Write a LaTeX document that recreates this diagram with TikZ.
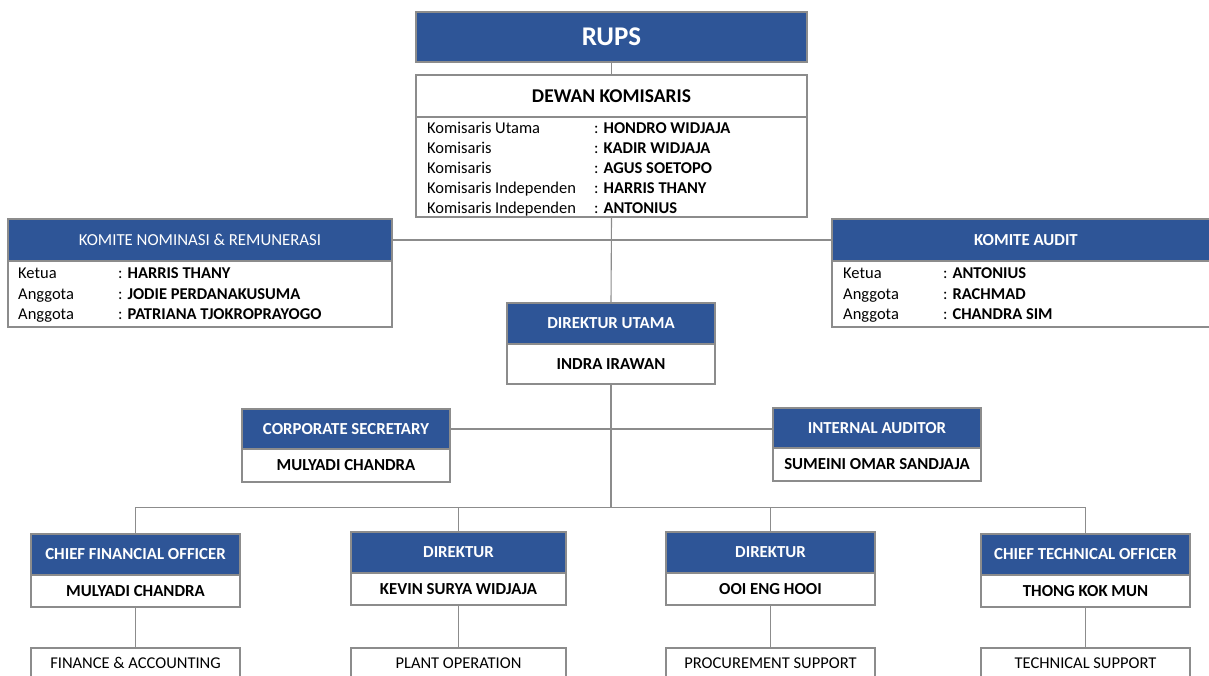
\documentclass[tikz,border=0pt]{standalone}
\usepackage{fontspec}
\setmainfont{Carlito}
\definecolor{hblue}{HTML}{2E5597}
\definecolor{lgray}{HTML}{8C8C8C}
\tikzset{
  hdr/.style={draw=lgray, line width=1.3pt, fill=hblue, text=white, inner sep=0pt, font=\bfseries\fontsize{16.8}{19}\selectfont},
  hdrlight/.style={hdr, font=\fontsize{16.8}{19}\selectfont},
  bodybox/.style={draw=lgray, line width=1.3pt, fill=white, inner sep=0pt, font=\bfseries\fontsize{16.8}{19}\selectfont},
  unitbox/.style={bodybox, font=\fontsize{16.5}{19}\selectfont},
  lbl/.style={anchor=base west, inner sep=0pt, yshift=-5.5pt, font=\fontsize{16.5}{19}\selectfont},
  conn/.style={draw=lgray, line width=1.1pt}
}
\begin{document}
\begin{tikzpicture}[x=1pt,y=-1pt]
\useasboundingbox (0,0) rectangle (1209,675);
\clip (0,0) rectangle (1209,675);

% RUPS and Dewan Komisaris
\node[hdr, minimum width=391, minimum height=50, font=\bfseries\fontsize{27}{30}\selectfont] (rups) at (611.5,37) {RUPS};
\node[bodybox, minimum width=391, minimum height=42, font=\bfseries\fontsize{19.5}{22}\selectfont] (dk) at (611.5,96) {DEWAN KOMISARIS};
\node[bodybox, minimum width=391, minimum height=100] (dkb) at (611.5,167) {};
\node[lbl] (dk1l) at (427,128) {Komisaris Utama};
\node[lbl] (dk1v) at (594,128) {: \textbf{HONDRO WIDJAJA}};
\node[lbl] (dk2l) at (427,148) {Komisaris};
\node[lbl] (dk2v) at (594,148) {: \textbf{KADIR WIDJAJA}};
\node[lbl] (dk3l) at (427,168) {Komisaris};
\node[lbl] (dk3v) at (594,168) {: \textbf{AGUS SOETOPO}};
\node[lbl] (dk4l) at (427,188) {Komisaris Independen};
\node[lbl] (dk4v) at (594,188) {: \textbf{HARRIS THANY}};
\node[lbl] (dk5l) at (427,208) {Komisaris Independen};
\node[lbl] (dk5v) at (594,208) {: \textbf{ANTONIUS}};

% Komite Nominasi & Remunerasi
\node[hdrlight, minimum width=384, minimum height=42] (knr) at (200,240) {KOMITE NOMINASI \& REMUNERASI};
\node[bodybox, minimum width=384, minimum height=66] (knrb) at (200,294) {};
\node[lbl] (knr1l) at (18,273) {Ketua};
\node[lbl] (knr1v) at (118,273) {: \textbf{HARRIS THANY}};
\node[lbl] (knr2l) at (18,294) {Anggota};
\node[lbl] (knr2v) at (118,294) {: \textbf{JODIE PERDANAKUSUMA}};
\node[lbl] (knr3l) at (18,314) {Anggota};
\node[lbl] (knr3v) at (118,314) {: \textbf{PATRIANA TJOKROPRAYOGO}};

% Komite Audit
\node[hdr, minimum width=388, minimum height=42] (ka) at (1026,240) {KOMITE AUDIT};
\node[bodybox, minimum width=388, minimum height=66] (kab) at (1026,294) {};
\node[lbl] (ka1l) at (843,273) {Ketua};
\node[lbl] (ka1v) at (943,273) {: \textbf{ANTONIUS}};
\node[lbl] (ka2l) at (843,294) {Anggota};
\node[lbl] (ka2v) at (943,294) {: \textbf{RACHMAD}};
\node[lbl] (ka3l) at (843,314) {Anggota};
\node[lbl] (ka3v) at (943,314) {: \textbf{CHANDRA SIM}};

% Direktur Utama
\node[hdr, minimum width=208, minimum height=41] (du) at (611,323.5) {DIREKTUR UTAMA};
\node[bodybox, minimum width=208, minimum height=40] (dub) at (611,364) {INDRA IRAWAN};

% Corporate Secretary / Internal Auditor
\node[hdr, minimum width=208, minimum height=40] (cs) at (346,429) {CORPORATE SECRETARY};
\node[bodybox, minimum width=208, minimum height=33] (csb) at (346,465.5) {MULYADI CHANDRA};
\node[hdr, minimum width=208, minimum height=40] (ia) at (877,428) {INTERNAL AUDITOR};
\node[bodybox, minimum width=208, minimum height=33] (iab) at (877,464.5) {SUMEINI OMAR SANDJAJA};

% Directors
\node[hdr, minimum width=209, minimum height=41] (cfo) at (135.5,554.5) {CHIEF FINANCIAL OFFICER};
\node[bodybox, minimum width=209, minimum height=32] (cfob) at (135.5,591) {MULYADI CHANDRA};
\node[hdr, minimum width=215, minimum height=41] (d1) at (458.5,552.5) {DIREKTUR};
\node[bodybox, minimum width=215, minimum height=32] (d1b) at (458.5,589) {KEVIN SURYA WIDJAJA};
\node[hdr, minimum width=209, minimum height=41] (d2) at (770.5,552.5) {DIREKTUR};
\node[bodybox, minimum width=209, minimum height=32] (d2b) at (770.5,589) {OOI ENG HOOI};
\node[hdr, minimum width=209, minimum height=41] (cto) at (1085.5,554.5) {CHIEF TECHNICAL OFFICER};
\node[bodybox, minimum width=209, minimum height=32] (ctob) at (1085.5,591) {THONG KOK MUN};

% Units
\node[unitbox, minimum width=209, minimum height=30] (fa) at (135.5,663) {FINANCE \& ACCOUNTING};
\node[unitbox, minimum width=215, minimum height=30] (po) at (458.5,663) {PLANT OPERATION};
\node[unitbox, minimum width=209, minimum height=30] (ps) at (770.5,663) {PROCUREMENT SUPPORT};
\node[unitbox, minimum width=209, minimum height=30] (ts) at (1085.5,663) {TECHNICAL SUPPORT};

% Connectors
\coordinate (bus) at (611,508);
\draw[conn] (rups.south) -- (dk.north);
\draw[conn] (dkb.south) -- (du.north);
\draw[conn] (knr.east) -- (ka.west);
\draw[conn] (dub.south) -- (bus);
\draw[conn] (cs.east) -- (cs.east -| ia.west);
\draw[conn] (cfo.north) -- ++(0,-26) -| (cto.north);
\draw[conn] (d1.north) -- (d1.north |- bus);
\draw[conn] (d2.north) -- (d2.north |- bus);
\draw[conn] (cfob.south) -- (fa.north);
\draw[conn] (d1b.south) -- (po.north);
\draw[conn] (d2b.south) -- (ps.north);
\draw[conn] (ctob.south) -- (ts.north);
\end{tikzpicture}
\end{document}
